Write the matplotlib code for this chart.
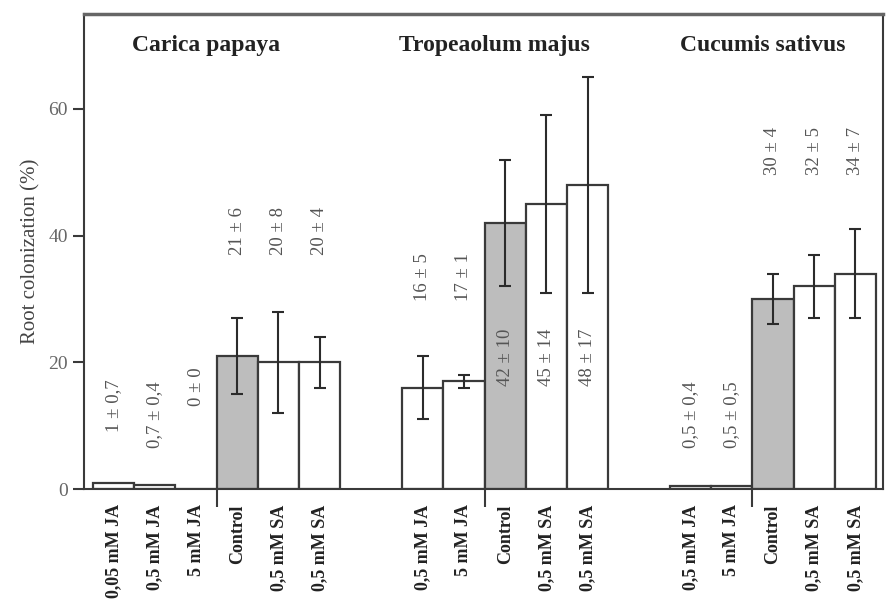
import numpy as np
import matplotlib.pyplot as plt

# Root colonization (%) per plant species and treatment
species = ['Carica papaya', 'Tropeaolum majus', 'Cucumis sativus']
treatments = [
    ['0,05 mM JA', '0,5 mM JA', '5 mM JA', 'Control', '0,5 mM SA', '0,5 mM SA'],
    ['0,5 mM JA', '5 mM JA', 'Control', '0,5 mM SA', '0,5 mM SA'],
    ['0,5 mM JA', '5 mM JA', 'Control', '0,5 mM SA', '0,5 mM SA'],
]
means = [
    [1, 0.7, 0, 21, 20, 20],
    [16, 17, 42, 45, 48],
    [0.5, 0.5, 30, 32, 34],
]
errors = [
    [0.7, 0.4, 0, 6, 8, 4],
    [5, 1, 10, 14, 17],
    [0.4, 0.5, 4, 5, 7],
]
value_labels = [
    ['1 ± 0,7', '0,7 ± 0,4', '0 ± 0', '21 ± 6', '20 ± 8', '20 ± 4'],
    ['16 ± 5', '17 ± 1', '42 ± 10', '45 ± 14', '48 ± 17'],
    ['0,5 ± 0,4', '0,5 ± 0,5', '30 ± 4', '32 ± 5', '34 ± 7'],
]
# height (axis units) where each value text is centred
label_y = [
    [13.1, 11.7, 16.2, 40.8, 40.8, 40.8],
    [33.4, 33.4, 20.8, 20.8, 20.8],
    [11.7, 11.7, 53.4, 53.4, 53.4],
]

edge = '#3a3a3a'
serif = ['Liberation Serif', 'DejaVu Serif']

fig = plt.figure(figsize=(8.87, 6.05), dpi=100)
ax = fig.add_axes([0.0947, 0.1917, 0.9008, 0.7852])

centers, names, sep = [], [], []
for g in range(3):
    n = len(means[g])
    x = g * 6.5 + np.arange(6 - n, 6)
    ctrl = treatments[g].index('Control')
    colors = ['#bdbdbd' if t == 'Control' else 'white' for t in treatments[g]]
    ax.bar(x, means[g], width=1.0, color=colors, edgecolor=edge, linewidth=1.6, zorder=2)
    # error bars are left out where they would be too small to see
    big = np.array(errors[g]) >= 1
    ax.errorbar(x[big], np.array(means[g])[big], yerr=np.array(errors[g])[big],
                fmt='none', ecolor='#2b2b2b', elinewidth=1.5, capsize=4.5,
                capthick=1.5, zorder=3)
    for xi, yy, txt in zip(x, label_y[g], value_labels[g]):
        ax.text(xi, yy, txt, rotation=90, ha='center', va='center',
                fontsize=13.5, color='#555555', family=serif, zorder=4)
    ax.text(np.mean(x) - 0.25, 70, species[g], ha='center', va='center',
            fontsize=17, fontweight='bold', color='#222222', family=serif)
    centers.extend(x)
    names.extend(treatments[g])
    sep.append(x[ctrl] - 0.5)

ax.set_xlim(-0.72, 18.67)
ax.set_ylim(0, 75)

ax.set_xticks(centers)
ax.set_xticklabels(names, rotation=90, fontsize=13, fontweight='bold',
                   family=serif, color='#222222')
ax.tick_params(axis='x', which='major', length=0, pad=11)
ax.set_xticks(sep, minor=True)
ax.tick_params(axis='x', which='minor', length=13, width=1.5, color=edge)

ax.set_yticks([0, 20, 40, 60])
ax.tick_params(axis='y', length=8, width=1.5, color=edge, labelsize=14,
               labelcolor='#666666')
for lab in ax.get_yticklabels():
    lab.set_family(serif)
ax.set_ylabel('Root colonization (%)', fontsize=15, color='#444444',
              family=serif, labelpad=6)

for s in ax.spines.values():
    s.set_color(edge)
    s.set_linewidth(1.5)
ax.spines['top'].set_color('#666666')
ax.spines['top'].set_linewidth(2.5)

fig.savefig('out.png', dpi=100)
